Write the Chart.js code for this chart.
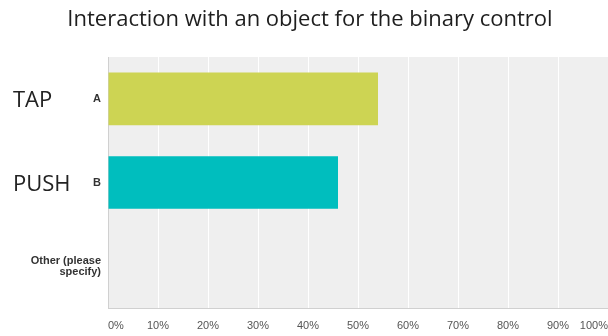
<!DOCTYPE html>
<html>
<head>
<meta charset="utf-8">
<script src="https://cdn.jsdelivr.net/npm/chart.js@4"></script>
<style>
  html, body { margin: 0; padding: 0; background: #ffffff; }
  #wrap { width: 608px; height: 336px; position: relative; }
</style>
</head>
<body>
<div id="wrap"><canvas id="c" width="608" height="336"></canvas></div>
<script>
// Chart heading
const chartTitle = 'Interaction with an object for the binary control';
// Answer options shown on the category axis
const categories = ['A', 'B', ['Other (please', 'specify)']];
// Share of responses per option, in percent
const responses = [54, 46, 0];
// Bar colours per option
const barColors = ['#cdd453', '#00bebe', '#cccccc'];
// Large side captions naming the gesture of each option
const sideCaptions = ['TAP', 'PUSH', ''];
// Percentage ticks along the value axis
const tickValues = [0, 10, 20, 30, 40, 50, 60, 70, 80, 90, 100];

const plotBackground = {
  id: 'plotBackground',
  beforeDraw(chart) {
    const { ctx, chartArea: a } = chart;
    ctx.save();
    ctx.fillStyle = '#efefef';
    ctx.fillRect(a.left, a.top, a.right - a.left, a.bottom - a.top);
    ctx.restore();
  }
};

// Heading and large gesture captions drawn next to the plot
const captionPlugin = {
  id: 'captions',
  afterDraw(chart) {
    const { ctx } = chart;
    const y = chart.scales.y;
    ctx.save();
    ctx.fillStyle = '#1e1e1e';
    ctx.font = '22px "Open Sans", "Noto Sans", sans-serif';
    ctx.textAlign = 'center';
    ctx.textBaseline = 'alphabetic';
    ctx.fillText(chartTitle, 310, 26);

    ctx.fillStyle = '#222222';
    ctx.textAlign = 'left';
    ctx.textBaseline = 'middle';
    sideCaptions.forEach((t, i) => {
      if (t) ctx.fillText(t, 13, y.getPixelForValue(i) + 2);
    });
    ctx.restore();
  }
};

new Chart(document.getElementById('c'), {
  type: 'bar',
  data: {
    labels: categories,
    datasets: [{
      data: responses,
      backgroundColor: barColors,
      borderWidth: 0,
      categoryPercentage: 0.63,
      barPercentage: 1
    }]
  },
  plugins: [plotBackground, captionPlugin],
  options: {
    indexAxis: 'y',
    responsive: false,
    animation: false,
    layout: { padding: { left: 0, right: 0, top: 57, bottom: 4 } },
    plugins: {
      legend: { display: false },
      tooltip: { enabled: false },
      title: { display: false }
    },
    scales: {
      x: {
        min: 0,
        max: 100,
        afterBuildTicks(scale) {
          scale.ticks = tickValues.map(v => ({ value: v }));
        },
        afterFit(scale) {
          scale.paddingLeft = 0;
          scale.paddingRight = 0;
          scale.height = 24;
        },
        ticks: {
          callback: v => v + '%',
          align: 'inner',
          color: '#555555',
          padding: 11,
          maxRotation: 0,
          autoSkip: false,
          font: { family: 'Arial, "Liberation Sans", sans-serif', size: 11 }
        },
        grid: { color: '#ffffff', lineWidth: 1, drawTicks: false },
        border: { display: true, color: '#d0d0d0' }
      },
      y: {
        afterFit(scale) {
          scale.width = 108;
          scale.paddingTop = 0;
          scale.paddingBottom = 0;
        },
        ticks: {
          color: '#333333',
          padding: 7,
          font: { family: 'Arial, "Liberation Sans", sans-serif', size: 11, weight: 'bold', lineHeight: 1.0 }
        },
        grid: { display: false, drawTicks: false },
        border: { display: true, color: '#d0d0d0' }
      }
    }
  }
});
</script>
</body>
</html>
